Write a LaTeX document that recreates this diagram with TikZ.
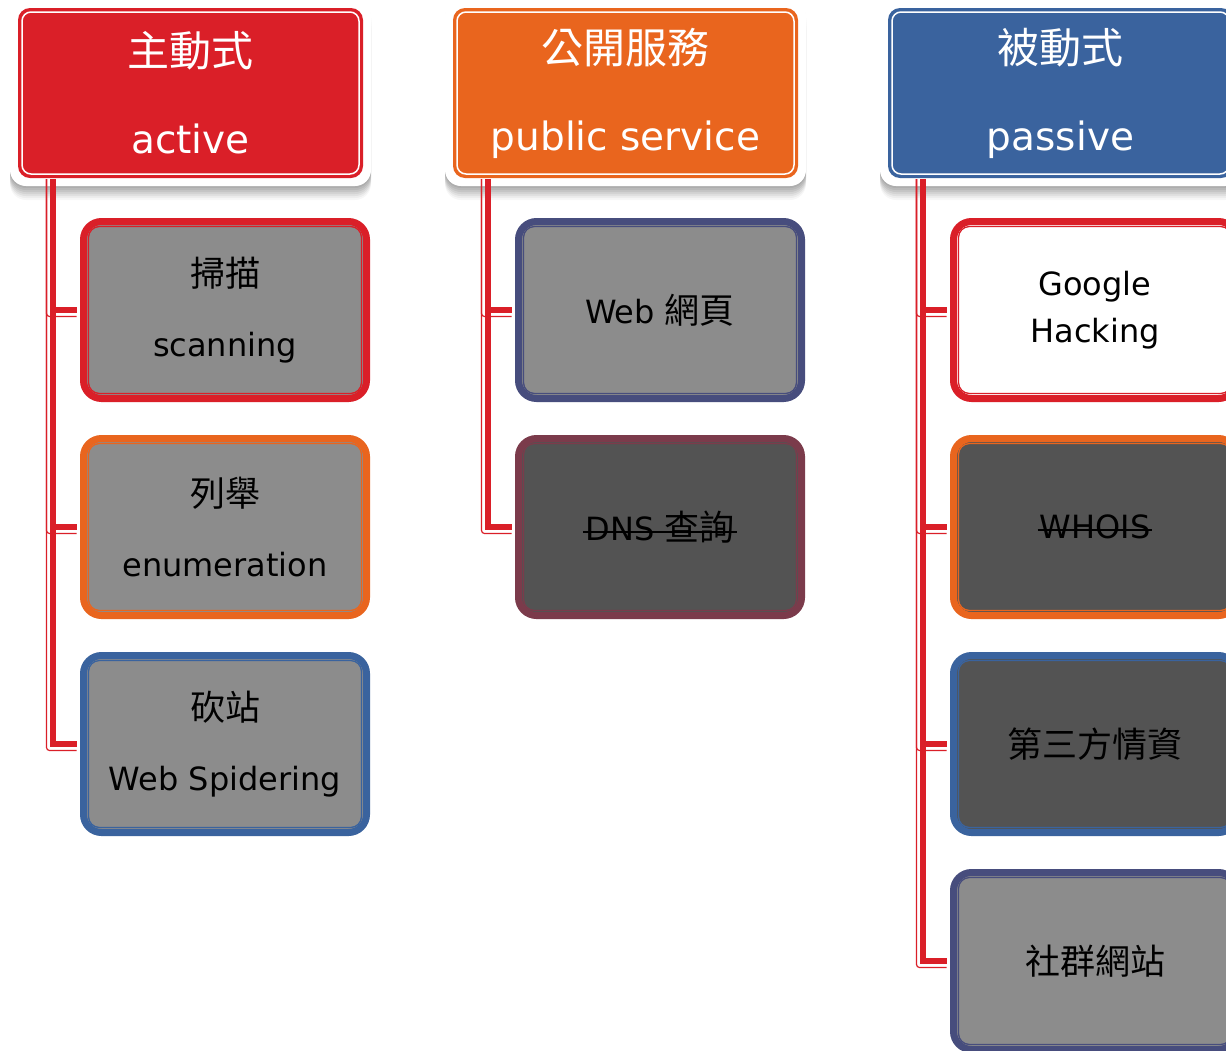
\documentclass[tikz,border=0pt]{standalone}
\usepackage{fontspec}
\setmainfont{DejaVu Sans}
\newfontfamily\cjk{Noto Sans CJK TC}
\usetikzlibrary{shadows}
\definecolor{cRed}{HTML}{DA1F28}
\definecolor{cOrange}{HTML}{E9651E}
\definecolor{cBlue}{HTML}{3A639E}
\definecolor{cNavy}{HTML}{474D7D}
\definecolor{cMaroon}{HTML}{7B3B4B}
\definecolor{cGrey}{HTML}{8C8C8C}
\definecolor{cDark}{HTML}{535353}
\newsavebox\strikebox
\newcommand\mystrike[1]{\sbox\strikebox{#1}\rlap{\hspace{-2pt}\rule[0.24em]{\dimexpr\wd\strikebox+4pt\relax}{1.5pt}}\usebox\strikebox}
\newcommand\hdrfont{\fontsize{39}{87}\selectfont}
\newcommand\hcjk{\cjk\fontsize{42}{87}\selectfont}
\newcommand\chfont{\fontsize{32}{70}\selectfont}
\newcommand\ccjk{\cjk\fontsize{35}{70}\selectfont}
\tikzset{
  hdr/.style={rectangle, rounded corners=16, fill=white, minimum width=361, minimum height=186,
    inner sep=0pt, text=white, font=\hdrfont, align=center,
    drop shadow={shadow xshift=0pt, shadow yshift=-2pt, opacity=0.06, fill=black},
    drop shadow={shadow xshift=0pt, shadow yshift=-4pt, opacity=0.06, fill=black},
    drop shadow={shadow xshift=0pt, shadow yshift=-6pt, opacity=0.06, fill=black},
    drop shadow={shadow xshift=0pt, shadow yshift=-8pt, opacity=0.06, fill=black},
    drop shadow={shadow xshift=0pt, shadow yshift=-10pt, opacity=0.05, fill=black},
    drop shadow={shadow xshift=0pt, shadow yshift=-12pt, opacity=0.04, fill=black},
    drop shadow={shadow xshift=0pt, shadow yshift=-14pt, opacity=0.03, fill=black},
    path picture={
      \fill[#1, rounded corners=12] ([shift={(8,8)}]path picture bounding box.north west) rectangle ([shift={(-8,-8)}]path picture bounding box.south east);
      \draw[white, line width=1.5, rounded corners=9] ([shift={(12,12)}]path picture bounding box.north west) rectangle ([shift={(-12,-12)}]path picture bounding box.south east);
    }},
  childbox/.style 2 args={rectangle, draw=#1, fill=#2, line width=7, rounded corners=18,
    minimum width=283, minimum height=177, inner sep=0pt, align=center, font=\chfont, text=black,
    path picture={
      \draw[#1, line width=1.3, rounded corners=11] ([shift={(5,5)}]path picture bounding box.north west) rectangle ([shift={(-5,-5)}]path picture bounding box.south east);
    }},
  conn/.style={cRed, line width=6},
  connthin/.style={cRed, line width=1.2, rounded corners=3},
}
\begin{document}
\begin{tikzpicture}[x=1pt,y=-1pt]
\fill[white] (0,0) rectangle (1226,1050);
\useasboundingbox (0,0) rectangle (1226,1050);
% headers
\node[hdr=cRed] (hA) at (190.5,93) {{\hcjk 主動式}\\active};
\node[hdr=cOrange] (hB) at (625.5,93) {{\hcjk 公開服務}\\public service};
\node[hdr=cBlue] (hC) at (1060.5,93) {{\hcjk 被動式}\\passive};
% children
\node[childbox={cRed}{cGrey}] (a1) at (225,310) {{\ccjk 掃描}\\scanning};
\node[childbox={cOrange}{cGrey}] (a2) at (225,527) {{\ccjk 列舉}\\enumeration};
\node[childbox={cBlue}{cGrey}] (a3) at (225,744) {{\ccjk 砍站}\\Web Spidering};
\node[childbox={cNavy}{cGrey}] (b1) at (660,310) {Web {\ccjk 網頁}};
\node[childbox={cMaroon}{cDark}] (b2) at (660,527) {\mystrike{DNS {\ccjk 查詢}}};
\node[childbox={cRed}{white}, font=\fontsize{32}{47}\selectfont] (c1) at (1095,310) {Google\\Hacking};
\node[childbox={cOrange}{cDark}] (c2) at (1095,527) {\mystrike{WHOIS}};
\node[childbox={cBlue}{cDark}] (c3) at (1095,744) {{\ccjk 第三方情資}};
\node[childbox={cNavy}{cGrey}] (c4) at (1095,961) {{\ccjk 社群網站}};
% connectors
\coordinate (tA) at (53,179);
\coordinate (tB) at (488,179);
\coordinate (tC) at (923,179);
\foreach \n in {a1,a2,a3} {
  \draw[connthin] ([xshift=-6.5pt]tA) |- ([xshift=-3.5pt,yshift=-6.5pt]\n.west);
  \draw[conn] (tA) |- ([xshift=-3.5pt]\n.west);
}
\foreach \n in {b1,b2} {
  \draw[connthin] ([xshift=-6.5pt]tB) |- ([xshift=-3.5pt,yshift=-6.5pt]\n.west);
  \draw[conn] (tB) |- ([xshift=-3.5pt]\n.west);
}
\foreach \n in {c1,c2,c3,c4} {
  \draw[connthin] ([xshift=-6.5pt]tC) |- ([xshift=-3.5pt,yshift=-6.5pt]\n.west);
  \draw[conn] (tC) |- ([xshift=-3.5pt]\n.west);
}
\end{tikzpicture}
\end{document}
